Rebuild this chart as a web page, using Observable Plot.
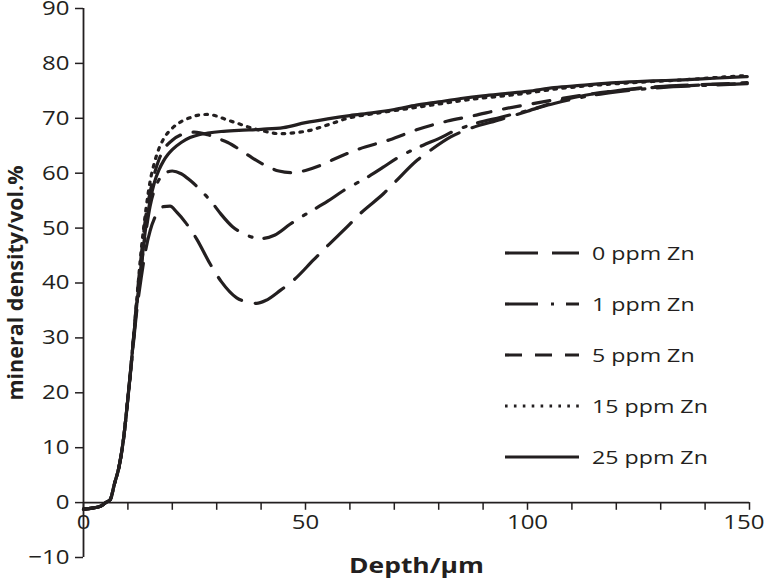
<!DOCTYPE html>
<html>
<head>
<meta charset="utf-8">
<script src="https://cdn.jsdelivr.net/npm/d3@7"></script>
<script src="https://cdn.jsdelivr.net/npm/@observablehq/plot@0.6"></script>
<style>
  html, body { margin: 0; padding: 0; background: #ffffff; }
  #wrap { position: relative; width: 765px; height: 584px; overflow: hidden; }
  #wrap svg.plot { overflow: visible; }
  #legend { position: absolute; left: 505px; top: 227px; font-family: "Open Sans", sans-serif; font-size: 19px; color: #231f20; }
  .row { display: flex; align-items: center; height: 51px; }
  .row svg { width: 74px; height: 10px; margin-right: 13px; flex: none; }
  .row span { display: inline-block; transform: scaleX(1.22); transform-origin: left center; white-space: nowrap; }
</style>
</head>
<body>
<div id="wrap"><div id="legend"></div></div>
<script>
// ---- data ----
const seriesNames = ["0 ppm Zn", "1 ppm Zn", "5 ppm Zn", "15 ppm Zn", "25 ppm Zn"];

const depth0 = [0,2,4,5,6,7,8,9,10,11,12,13,14,15,16,17,18,19.5,21,23,25.5,28.5,31,34.5,37,39,41,44.4,47.3,51.8,55,59.7,62.4,67.6,70.3,75.2,78.2,82.7,87.2,94,100,106,113,120,125,134.5,149.5];
const md0    = [-1.2,-1,-0.6,0,0.5,3.5,6.5,11.5,19,27,35,41,46,49.5,51.8,53.2,53.9,54,52.9,51,48,43.5,40.3,37.3,36.5,36.3,36.8,38.7,40.5,44.2,46.8,50.5,52.7,56.3,58.5,62.4,64.2,66.6,68.2,69.8,71.3,72.9,74.2,75,75.5,76,76.3];

const depth1 = [0,2,4,5,6,7,8,9,10,11,12,13,14,15,16,17,18,20,22,24,26.5,29,31,33.5,36,40,43,46.5,50,55,58.5,64,67.5,70.5,76.5,80,83.5,88,94,100,106,112,120,130,140,149.5];
const md1    = [-1.2,-1,-0.6,0,0.5,3.5,6.5,11.5,19,27.5,36,43,49,54,57,58.8,59.8,60.4,59.9,58.7,56.8,54.6,52.5,50.3,49,48.1,48.7,50.7,52.5,54.9,56.8,59.3,61.1,62.7,65.1,66.3,67.7,69,70.2,71.4,72.7,73.8,74.8,75.6,76,76.3];

const depth5 = [0,2,4,5,6,7,8,9,10,11,12,13,14,15,16,17,18,20,22,25,28,30,32.5,35,38,41,44,47,50,53,56,62,69,75,82,88,94,100,107,113,120,130,140,149.5];
const md5    = [-1.2,-1,-0.6,0,0.5,3.5,6.5,11.5,19,27.5,37,45,52,56.5,60,62.5,64.2,66,67,67.5,67,66.4,65.6,64.4,62.8,61.4,60.4,60.1,60.5,61.3,62.4,64.4,66.1,67.9,69.5,70.5,71.6,72.5,73.5,74.3,75,75.7,76.1,76.5];

const depth15 = [0,2,4,5,6,7,8,9,10,11,12,13,14,15,16,17,18,20,22,24,26,28,30,32,35,38,41,44,48,51,55,60,65,70,75,80,85,90,95,100,106,112,120,128,135,142,149.5];
const md15    = [-1.2,-1,-0.6,0,0.5,3.5,6.5,11.5,19,27.5,37,46,53,58.5,62,64.5,66.2,68.2,69.4,70.1,70.6,70.7,70.4,69.8,69,68.2,67.6,67.2,67.4,67.8,68.8,70.1,70.8,71.4,72,72.6,73.2,73.7,74.1,74.6,75.3,75.8,76.3,76.7,77,77.4,77.8];

const depth25 = [0,2,4,5,6,7,8,9,10,11,12,13,14,15,16,17,18,19,20,22,24,26,28,31,35,40,45,50,55,60,65,70,75,80,85,90,95,100,106,112,120,128,135,142,149.5];
const md25    = [-1.2,-1,-0.6,0,0.5,3.5,6.5,11.5,19,27.5,36,43,50,55,58.4,60.6,62.2,63.4,64.3,65.6,66.5,67,67.3,67.6,67.8,68,68.3,69.2,69.9,70.5,71,71.6,72.4,73,73.6,74.1,74.5,74.9,75.6,76,76.5,76.8,77,77.3,77.6];

const xTicks = [0,10,20,30,40,50,60,70,80,90,100,110,120,130,140,150];
const xTickLabels = [0,50,100,150];
const yTicks = [-10,0,10,20,30,40,50,60,70,80,90];
const xTitle = "Depth/µm";
const yTitle = "mineral density/vol.%";

// ---- styles ----
const ink = "#231f20";
const dashes = ["33,14", "33,13,3,12", "17,13", "2.6,6.3", null];
const depths = [depth0, depth1, depth5, depth15, depth25];
const values = [md0, md1, md5, md15, md25];
const stretch = 1.2; // reference text is drawn horizontally wider

const lineMarks = seriesNames.map((name, i) =>
  Plot.line(depths[i].map((d, j) => ({depth: d, md: values[i][j]})), {
    x: "depth", y: "md", stroke: ink, strokeWidth: 3.2,
    strokeDasharray: dashes[i], curve: "monotone-x"
  })
);

const fmt = d => d < 0 ? "\u2212" + Math.abs(d) : String(d);

const chart = Plot.plot({
  width: 765, height: 584,
  marginLeft: 83, marginRight: 16, marginTop: 8, marginBottom: 27,
  style: {fontFamily: "Open Sans, sans-serif", fontSize: "20px", color: ink, background: "#ffffff"},
  x: {domain: [0, 150], axis: null},
  y: {domain: [-10, 90], axis: null},
  marks: [
    Plot.axisY(yTicks, {tickSize: 8, tickPadding: 6, tickFormat: fmt, label: null, stroke: ink, strokeWidth: 1.5, fill: ink, fontSize: 20}),
    Plot.ruleX([0], {stroke: ink, strokeWidth: 1.8}),
    Plot.ruleY([0], {stroke: ink, strokeWidth: 1.8}),
    Plot.ruleX(xTicks, {x: d => d, y1: 0, y2: -1.4, stroke: ink, strokeWidth: 1.5}),
    Plot.text(xTickLabels.slice(0, -1), {x: d => d, y: 0, dy: 20, text: d => fmt(d), fill: ink, fontSize: 20}),
    Plot.text(xTickLabels.slice(-1), {x: d => d, y: 0, dy: 20, dx: 15, textAnchor: "end", text: d => fmt(d), fill: ink, fontSize: 20}),
    ...lineMarks,
    Plot.text([yTitle], {frameAnchor: "left", dx: -67, rotate: -90, textAnchor: "middle", fontWeight: "bold", fontSize: 21.5, fill: ink}),
    Plot.text([xTitle], {frameAnchor: "bottom", dy: 15, textAnchor: "middle", fontWeight: "bold", fontSize: 22, fill: ink})
  ]
});
document.getElementById("wrap").prepend(chart);

// widen horizontal texts like the reference (the rotated title is left as is)
d3.select(chart).selectAll("text").each(function() {
  const t = this.getAttribute("transform") || "";
  if (t.includes("rotate")) return;
  if (this.querySelectorAll("tspan").length) return;
  const len = this.getComputedTextLength();
  if (len > 0) {
    this.setAttribute("textLength", (len * stretch).toFixed(1));
    this.setAttribute("lengthAdjust", "spacingAndGlyphs");
  }
});

// ---- legend (HTML overlay inside plot area) ----
const legend = d3.select("#legend");
seriesNames.forEach((name, i) => {
  const row = legend.append("div").attr("class", "row");
  const s = row.append("svg").attr("viewBox", "0 0 74 10");
  s.append("line").attr("x1", 0).attr("x2", 74).attr("y1", 5).attr("y2", 5)
    .attr("stroke", ink).attr("stroke-width", 3.2)
    .attr("stroke-dasharray", dashes[i]);
  row.append("span").text(name);
});
</script>
</body>
</html>
